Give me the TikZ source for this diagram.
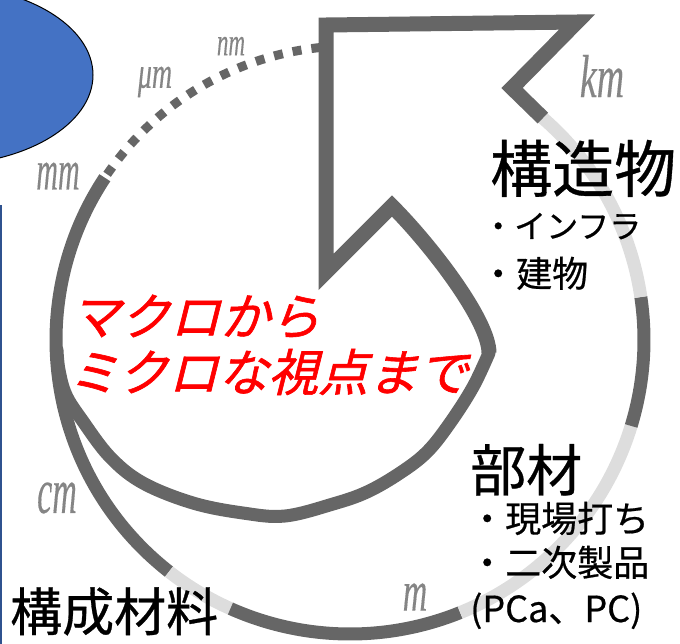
\documentclass[tikz,border=0pt]{standalone}
\usepackage{fontspec}
\newfontfamily\jp[FakeBold=0.6]{Noto Sans CJK JP}
\newfontfamily\jpsl[FakeSlant=0.25, FakeBold=1.2]{Noto Sans CJK JP}
\newfontfamily\unitfont[FakeBold=0.3]{Liberation Serif}
\definecolor{bandc}{HTML}{666666}
\definecolor{lbandc}{HTML}{DDDDDD}
\definecolor{labc}{HTML}{858585}
\definecolor{ellc}{HTML}{4472C4}
\definecolor{navyc}{HTML}{2F528F}
\begin{document}
\begin{tikzpicture}[x=1pt,y=-1pt,
  dk/.style={draw=bandc, line width=13pt},
  lt/.style={draw=lbandc, line width=13pt},
  dotline/.style={draw=bandc, line width=9pt, dash pattern=on 9pt off 10pt},
  arrowline/.style={draw=bandc, line width=15pt, line join=miter, miter limit=10},
  unit/.style={text=labc, inner sep=0},
  jptxt/.style={anchor=base west, inner sep=0, text=black},
  redtxt/.style={anchor=base west, inner sep=0, text=red, font=\jpsl\fontsize{50}{50}\selectfont}
]
\useasboundingbox (0,0) rectangle (680,643);
\clip (0,0) rectangle (680,643);

% blue ellipse and left edge line
\fill[ellc, draw=black, line width=1pt] (-60,75) ellipse [x radius=153, y radius=90];
\draw[navyc, line width=2.5pt] (1.2,205) -- (1.2,645);

% outer spiral ring (center 350,340, r 294)
\draw[dotline] plot[domain=95.8:146, samples=80] ({350+294*cos(\x)},{340-294*sin(\x)});
\draw[dk] plot[domain=146.5:232, samples=80] ({350+294*cos(\x)},{340-294*sin(\x)});
\draw[lt] plot[domain=232:246, samples=20] ({350+294*cos(\x)},{340-294*sin(\x)});
\draw[dk] plot[domain=246:292, samples=50] ({350+294*cos(\x)},{340-294*sin(\x)});
\draw[lt] plot[domain=292:343, samples=50] ({350+294*cos(\x)},{340-294*sin(\x)});
\draw[dk] plot[domain=343:368.4, samples=30] ({350+294*cos(\x)},{340-294*sin(\x)});
\draw[lt] plot[domain=8.4:49, samples=50] ({350+294*cos(\x)},{340-294*sin(\x)});

% arrow
\coordinate (D) at ({350+294*cos(49)},{340-294*sin(49)});
\coordinate (C) at (512,88);
\coordinate (B) at (577,22);
\coordinate (A) at (326,25);
\coordinate (E) at (326,272);
\coordinate (F) at (392,206);
\coordinate (K) at (489,353);
\draw[arrowline] (D) -- (C) -- (B) -- (A) -- (E) -- (F) .. controls (430,244) and (489,320) .. (K);

% inner spiral
\draw[dk, line cap=round] plot[smooth, tension=0.6] coordinates {(489,353) (473,387) (450,423) (427,452) (400,473) (367,492) (333,504) (285,516) (243,513) (193,503) (143,483) (110,457) (82,420) (66,395) (59,370) (57,350)};

% unit labels
\node[unit] (unm) at (231,46) {\scalebox{1}[1.7]{\unitfont\itshape\fontsize{23}{23}\selectfont nm}};
\node[unit] (uum) at (155,82) {\scalebox{1}[1.6]{\unitfont\itshape\fontsize{28}{28}\selectfont μm}};
\node[unit] (umm) at (58,176) {\scalebox{1}[1.9]{\unitfont\itshape\fontsize{30}{30}\selectfont mm}};
\node[unit] (ucm) at (57,498) {\scalebox{1}[1.9]{\unitfont\itshape\fontsize{34}{34}\selectfont cm}};
\node[unit] (um) at (415,597) {\scalebox{1}[1.7]{\unitfont\itshape\fontsize{34}{34}\selectfont m}};
\node[unit] (ukm) at (602,76) {\scalebox{1}[1.6]{\unitfont\itshape\fontsize{38}{38}\selectfont km}};

% Japanese labels
\node[jptxt, font=\jp\fontsize{62}{62}\selectfont] (t1) at (490,192) {構造物};
\node[jptxt, font=\jp\fontsize{32}{32}\selectfont] (t2) at (482,238) {・インフラ};
\node[jptxt, font=\jp\fontsize{36}{36}\selectfont] (t3) at (480,287) {・建物};
\node[jptxt, font=\jp\fontsize{56}{56}\selectfont] (t4) at (470,491) {部材};
\node[jptxt, font=\jp\fontsize{36}{36}\selectfont] (t5) at (469,532) {・現場打ち};
\node[jptxt, font=\jp\fontsize{36}{36}\selectfont] (t6) at (469,576) {・二次製品};
\node[jptxt, font=\jp\fontsize{36}{36}\selectfont] (t7) at (470,622) {(PCa、PC)};
\node[jptxt, font=\jp\fontsize{52}{52}\selectfont] (t8) at (10,631) {構成材料};

% red text
\node[redtxt] (r1) at (70,335) {マクロから};
\node[redtxt] (r2) at (68,391) {ミクロな視点まで};
\end{tikzpicture}
\end{document}
